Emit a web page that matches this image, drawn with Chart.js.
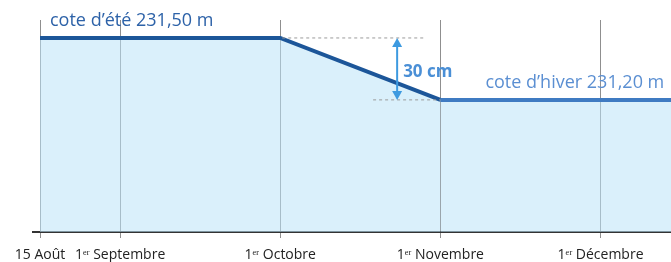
<!DOCTYPE html>
<html>
<head>
<meta charset="utf-8">
<script src="https://cdn.jsdelivr.net/npm/chart.js@4.4.0/dist/chart.umd.min.js"></script>
<style>
  html, body { margin: 0; padding: 0; background: #fff; }
  #wrap { width: 671px; height: 262px; }
</style>
</head>
<body>
<div id="wrap"><canvas id="cote-chart"></canvas></div>
<script>
// x en mois depuis le 15 août (le 15 août -> 1er sept = demi-mois)
const tickLabels = ['15 Août', '1ᵉʳ Septembre', '1ᵉʳ Octobre', '1ᵉʳ Novembre', '1ᵉʳ Décembre'];
const tickPos = [0, 0.5, 1.5, 2.5, 3.5];
const datePos = [0, 1.5, 2.5, 3.94];
const coteValues = [231.50, 231.50, 231.20, 231.20];

const summerBlue = '#1c5699';
const winterBlue = '#3f7bc2';

const canvas = document.getElementById('cote-chart');

// annotations : pointillés, double flèche, textes
const annotations = {
    id: 'annotations',
    afterDatasetsDraw(chart) {
        const ctx = chart.ctx;
        const xs = chart.scales.x;
        const ys = chart.scales.y;
        const yHigh = ys.getPixelForValue(coteValues[0]);
        const yLow = ys.getPixelForValue(coteValues[2]);

        ctx.save();
        // petit bout d'axe à gauche
        ctx.strokeStyle = '#333';
        ctx.lineWidth = 2;
        ctx.beginPath();
        ctx.moveTo(32, chart.chartArea.bottom);
        ctx.lineTo(chart.chartArea.left, chart.chartArea.bottom);
        ctx.stroke();

        // pointillés
        ctx.strokeStyle = '#9a9a9a';
        ctx.lineWidth = 1;
        ctx.setLineDash([3, 3]);
        ctx.beginPath();
        ctx.moveTo(xs.getPixelForValue(1.5) + 2, yHigh);
        ctx.lineTo(xs.getPixelForValue(2.41), yHigh);
        ctx.moveTo(xs.getPixelForValue(2.08), yLow);
        ctx.lineTo(xs.getPixelForValue(2.5), yLow);
        ctx.stroke();
        ctx.setLineDash([]);

        // double flèche
        const ax = xs.getPixelForValue(2.23);
        ctx.strokeStyle = '#3d9ae0';
        ctx.fillStyle = '#3d9ae0';
        ctx.lineWidth = 2;
        ctx.beginPath();
        ctx.moveTo(ax, yHigh + 4);
        ctx.lineTo(ax, yLow - 4);
        ctx.stroke();
        ctx.beginPath();
        ctx.moveTo(ax, yHigh);
        ctx.lineTo(ax - 5, yHigh + 9);
        ctx.lineTo(ax + 5, yHigh + 9);
        ctx.closePath();
        ctx.fill();
        ctx.beginPath();
        ctx.moveTo(ax, yLow);
        ctx.lineTo(ax - 5, yLow - 9);
        ctx.lineTo(ax + 5, yLow - 9);
        ctx.closePath();
        ctx.fill();

        // textes
        ctx.textBaseline = 'alphabetic';
        ctx.textAlign = 'left';
        ctx.fillStyle = '#4a8fd6';
        ctx.font = 'bold 17px "Open Sans"';
        ctx.fillText('30 cm', ax + 6, yHigh + 39, 55);

        ctx.fillStyle = '#2d62a8';
        ctx.font = '18px "Open Sans"';
        ctx.fillText('cote d’été 231,50 m', xs.getPixelForValue(0) + 10, yHigh - 12, 166);

        ctx.fillStyle = '#5b8fd2';
        ctx.fillText('cote d’hiver 231,20 m', xs.getPixelForValue(2.5) + 45, yLow - 12, 181);
        ctx.restore();
    }
};

const coteChart = new Chart(canvas, {
    type: 'line',
    data: {
        datasets: [{
            data: datePos.map((x, i) => ({ x: x, y: coteValues[i] })),
            borderColor: summerBlue,
            borderWidth: 4,
            backgroundColor: 'rgba(188, 227, 247, 0.55)',
            fill: 'start',
            pointRadius: 0,
            tension: 0,
            segment: {
                borderColor: (c) => c.p0DataIndex >= 2 ? winterBlue : summerBlue
            }
        }]
    },
    options: {
        responsive: true,
        maintainAspectRatio: false,
        animation: { duration: 0 },
        layout: {
            padding: { left: 40, right: 0, top: 20, bottom: 0 }
        },
        scales: {
            x: {
                type: 'linear',
                min: 0,
                max: 3.94,
                afterBuildTicks: (axis) => {
                    axis.ticks = tickPos.map(v => ({ value: v }));
                },
                afterFit: (axis) => {
                    axis.height = 30;
                },
                ticks: {
                    autoSkip: false,
                    maxRotation: 0,
                    padding: 9,
                    color: '#222',
                    font: { family: '"Open Sans"', size: 14 },
                    callback: (value) => {
                        const i = tickPos.indexOf(value);
                        return i >= 0 ? tickLabels[i] : '';
                    }
                },
                grid: {
                    color: '#8f8f8f',
                    lineWidth: 1,
                    tickLength: 6
                },
                border: {
                    display: true,
                    color: '#333',
                    width: 2
                }
            },
            y: {
                display: false,
                min: 230.56,
                max: 231.587
            }
        },
        plugins: {
            legend: { display: false },
            tooltip: { enabled: false }
        }
    },
    plugins: [annotations]
});
</script>
</body>
</html>
